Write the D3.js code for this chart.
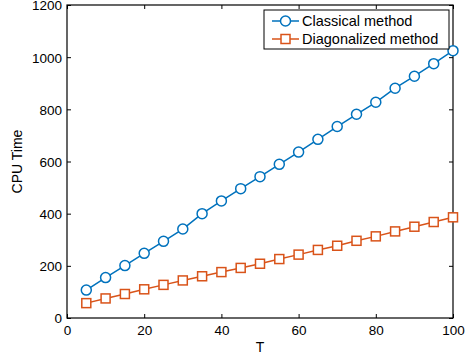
<!DOCTYPE html>
<html>
<head>
<meta charset="utf-8">
<script src="https://cdn.jsdelivr.net/npm/d3@7"></script>
<style>
  body { margin: 0; background: #fff; }
  svg { display: block; font-family: "Liberation Sans", Arial, sans-serif; }
</style>
</head>
<body>
<div id="chart"></div>
<script>
// data
const T = [5, 10, 15, 20, 25, 30, 35, 40, 45, 50, 55, 60, 65, 70, 75, 80, 85, 90, 95, 100];
const classical = [107, 155, 201, 248, 294, 341, 400, 449, 496, 542, 589, 636, 685, 734, 781, 827, 881, 927, 975, 1025];
const diagonalized = [57, 75, 92, 110, 127, 144, 160, 176, 192, 208, 226, 243, 261, 277, 296, 313, 332, 350, 368, 386];
const xTicks = [0, 20, 40, 60, 80, 100];
const yTicks = [0, 200, 400, 600, 800, 1000, 1200];
const seriesNames = ["Classical method", "Diagonalized method"];

const width = 467, height = 360;
const plotL = 67, plotR = 453, plotT = 5, plotB = 318;

const x = d3.scaleLinear([0, 100], [plotL, plotR]);
const y = d3.scaleLinear([0, 1200], [plotB, plotT]);

const svg = d3.select("#chart").append("svg")
    .attr("width", width)
    .attr("height", height);

// axes with inward ticks, mirrored on top/right
function styleAxis(g) {
    g.select(".domain").remove();
    g.selectAll("line").attr("stroke", "#000").attr("stroke-width", 1);
    g.selectAll("text").style("font-size", "13.5px").attr("fill", "#000");
}

svg.append("g")
    .attr("transform", `translate(0,${plotB})`)
    .call(d3.axisBottom(x).tickValues(xTicks).tickFormat(d3.format("d"))
        .tickSizeInner(-4).tickSizeOuter(0).tickPadding(7))
    .call(styleAxis);

svg.append("g")
    .attr("transform", `translate(${plotL},0)`)
    .call(d3.axisLeft(y).tickValues(yTicks).tickFormat(d3.format("d"))
        .tickSizeInner(-4).tickSizeOuter(0).tickPadding(5))
    .call(styleAxis)
    .selectAll("text").attr("dy", "0.36em");

svg.append("g")
    .attr("transform", `translate(0,${plotT})`)
    .call(d3.axisTop(x).tickValues(xTicks).tickSizeInner(-4).tickSizeOuter(0).tickFormat(""))
    .call(styleAxis);

svg.append("g")
    .attr("transform", `translate(${plotR},0)`)
    .call(d3.axisRight(y).tickValues(yTicks).tickSizeInner(-4).tickSizeOuter(0).tickFormat(""))
    .call(styleAxis);

// box
svg.append("rect")
    .attr("x", plotL).attr("y", plotT)
    .attr("width", plotR - plotL).attr("height", plotB - plotT)
    .attr("fill", "none")
    .attr("stroke", "#000")
    .attr("stroke-width", 1.2);

// axis labels
svg.append("text")
    .attr("x", (plotL + plotR) / 2).attr("y", 352)
    .attr("text-anchor", "middle")
    .style("font-size", "14px")
    .text("T");

svg.append("text")
    .attr("transform", `translate(22,${(plotT + plotB) / 2}) rotate(-90)`)
    .attr("text-anchor", "middle")
    .style("font-size", "14px")
    .text("CPU Time");

const line = d3.line().x(d => x(d[0])).y(d => y(d[1]));

const blue = "#0072BD", orange = "#D95319";

// classical series
svg.append("path")
    .datum(T.map((t, i) => [t, classical[i]]))
    .attr("d", line)
    .attr("fill", "none")
    .attr("stroke", blue)
    .attr("stroke-width", 1.5);

svg.selectAll("circle.classical")
    .data(T.map((t, i) => [t, classical[i]]))
    .enter()
    .append("circle")
    .attr("class", "classical")
    .attr("cx", d => x(d[0]))
    .attr("cy", d => y(d[1]))
    .attr("r", 5)
    .attr("fill", "#fff")
    .attr("stroke", blue)
    .attr("stroke-width", 1.5);

// diagonalized series
svg.append("path")
    .datum(T.map((t, i) => [t, diagonalized[i]]))
    .attr("d", line)
    .attr("fill", "none")
    .attr("stroke", orange)
    .attr("stroke-width", 1.5);

svg.selectAll("rect.diag")
    .data(T.map((t, i) => [t, diagonalized[i]]))
    .enter()
    .append("rect")
    .attr("class", "diag")
    .attr("x", d => x(d[0]) - 4.5)
    .attr("y", d => y(d[1]) - 4.5)
    .attr("width", 9)
    .attr("height", 9)
    .attr("fill", "#fff")
    .attr("stroke", orange)
    .attr("stroke-width", 1.5);

// legend
const legend = svg.append("g");
legend.append("rect")
    .attr("x", 264).attr("y", 10)
    .attr("width", 185).attr("height", 39)
    .attr("fill", "#fff")
    .attr("stroke", "#000")
    .attr("stroke-width", 1);

seriesNames.forEach((name, i) => {
    const ly = 21 + i * 18;
    const col = i === 0 ? blue : orange;
    legend.append("line")
        .attr("x1", 272).attr("x2", 299)
        .attr("y1", ly).attr("y2", ly)
        .attr("stroke", col).attr("stroke-width", 1.5);
    if (i === 0) {
        legend.append("circle")
            .attr("cx", 285.5).attr("cy", ly).attr("r", 5)
            .attr("fill", "#fff").attr("stroke", col).attr("stroke-width", 1.5);
    } else {
        legend.append("rect")
            .attr("x", 281).attr("y", ly - 4.5).attr("width", 9).attr("height", 9)
            .attr("fill", "#fff").attr("stroke", col).attr("stroke-width", 1.5);
    }
    legend.append("text")
        .attr("x", 302).attr("y", ly + 5)
        .style("font-size", "14.5px")
        .text(name);
});
</script>
</body>
</html>
